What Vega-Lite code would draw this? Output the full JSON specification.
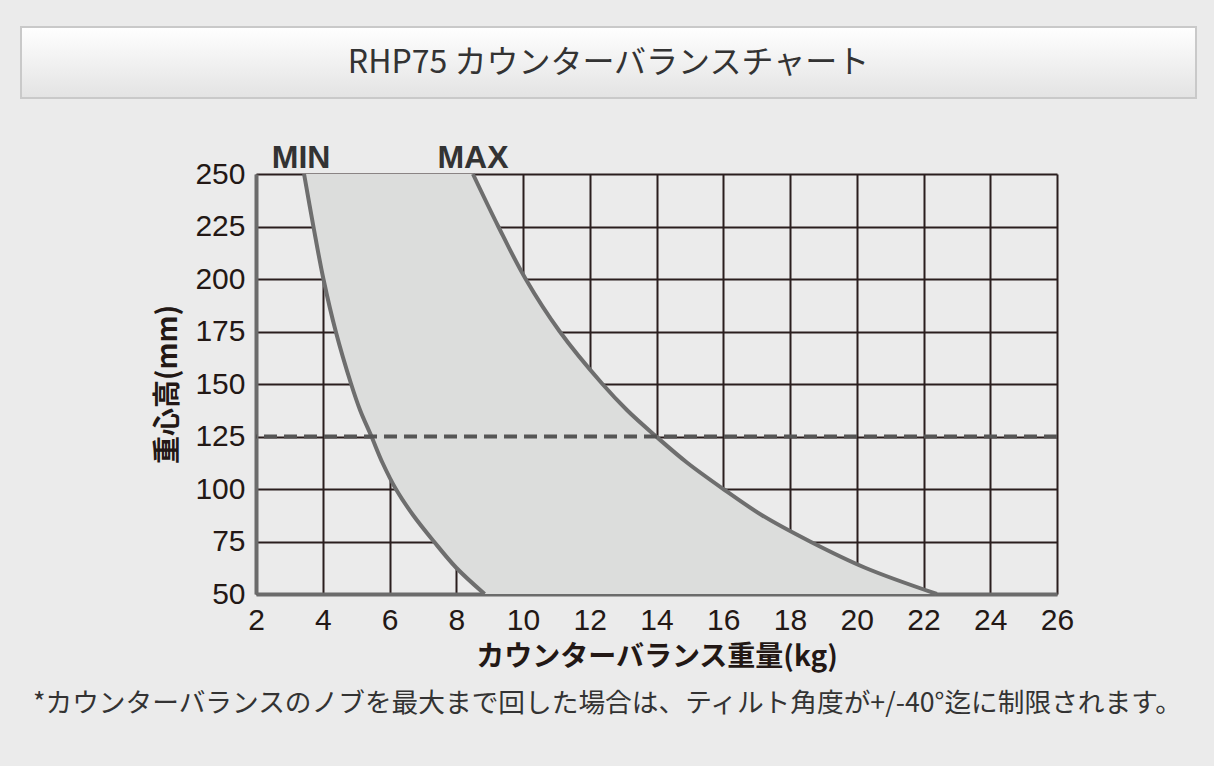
{
  "$schema": "https://vega.github.io/schema/vega-lite/v6.json",
  "background": "#ebebeb",
  "padding": {"left": 20, "top": 26, "right": 19, "bottom": 51},
  "spacing": 76,
  "bounds": "flush",
  "title": {
    "text": "*カウンターバランスのノブを最大まで回した場合は、ティルト角度が+/-40°迄に制限されます。",
    "orient": "bottom",
    "anchor": "start",
    "dx": 13,
    "offset": 20,
    "font": "Noto Sans CJK JP",
    "fontSize": 26.7,
    "fontWeight": "normal",
    "color": "#333333"
  },
  "vconcat": [
    {
      "width": 1175,
      "height": 71,
      "data": {"values": [{"label": "RHP75 カウンターバランスチャート"}]},
      "layer": [
        {
          "mark": {
            "type": "rect",
            "color": {
              "gradient": "linear",
              "x1": 0, "y1": 0, "x2": 0, "y2": 1,
              "stops": [
                {"offset": 0, "color": "#ffffff"},
                {"offset": 1, "color": "#e3e3e3"}
              ]
            },
            "stroke": "#c9c9c9",
            "strokeWidth": 2
          },
          "encoding": {}
        },
        {
          "mark": {"type": "text", "font": "Noto Sans CJK JP", "fontSize": 32, "color": "#333333"},
          "encoding": {"text": {"field": "label"}}
        }
      ]
    },
    {
      "spacing": 0,
      "bounds": "flush",
      "hconcat": [
        {
          "width": 235,
          "height": 420,
          "data": {"values": [{}]},
          "mark": {"type": "point", "opacity": 0}
        },
        {
          "width": 801,
          "height": 420,
          "data": {
            "values": [
              {"h": 250, "min": 3.44, "max": 8.5},
              {"h": 225, "min": 3.72, "max": 9.26},
              {"h": 200, "min": 4.02, "max": 10.08},
              {"h": 175, "min": 4.39, "max": 11.1},
              {"h": 150, "min": 4.85, "max": 12.38},
              {"h": 137.5, "min": 5.12, "max": 13.12},
              {"h": 125, "min": 5.46, "max": 13.99},
              {"h": 112.5, "min": 5.79, "max": 14.92},
              {"h": 100, "min": 6.19, "max": 16.0},
              {"h": 87.5, "min": 6.71, "max": 17.16},
              {"h": 75, "min": 7.33, "max": 18.6},
              {"h": 62.5, "min": 8.0, "max": 20.25},
              {"h": 50, "min": 8.85, "max": 22.4}
            ]
          },
          "layer": [
            {
              "mark": {"type": "area", "orient": "horizontal", "interpolate": "catmull-rom", "color": "#dcdddc"},
              "encoding": {
                "y": {
                  "field": "h", "type": "quantitative",
                  "scale": {"domain": [50, 250], "nice": false, "zero": false},
                  "axis": {
                    "values": [50, 75, 100, 125, 150, 175, 200, 225, 250],
                    "title": "重心高(mm)",
                    "titlePadding": 12
                  }
                },
                "x": {
                  "field": "min", "type": "quantitative",
                  "scale": {"domain": [2, 26], "nice": false, "zero": false},
                  "axis": {
                    "values": [2, 4, 6, 8, 10, 12, 14, 16, 18, 20, 22, 24, 26],
                    "title": "カウンターバランス重量(kg)",
                    "titlePadding": 8
                  }
                },
                "x2": {"field": "max"}
              }
            },
            {
              "mark": {"type": "line", "interpolate": "catmull-rom", "color": "#6e6e6e", "strokeWidth": 4},
              "encoding": {
                "x": {"field": "min", "type": "quantitative"},
                "y": {"field": "h", "type": "quantitative"},
                "order": {"field": "h"}
              }
            },
            {
              "mark": {"type": "line", "interpolate": "catmull-rom", "color": "#6e6e6e", "strokeWidth": 4},
              "encoding": {
                "x": {"field": "max", "type": "quantitative"},
                "y": {"field": "h", "type": "quantitative"},
                "order": {"field": "h"}
              }
            },
            {
              "data": {"values": [{"h": 125}]},
              "mark": {"type": "rule", "color": "#555555", "strokeWidth": 4, "strokeDash": [13, 7]},
              "encoding": {"y": {"field": "h", "type": "quantitative"}}
            },
            {
              "data": {"values": [{"label": "MIN", "x": 3.35, "h": 250}, {"label": "MAX", "x": 8.5, "h": 250}]},
              "mark": {"type": "text", "font": "Liberation Sans", "fontSize": 32, "fontWeight": "bold", "color": "#333333", "baseline": "alphabetic", "dy": -6},
              "encoding": {
                "x": {"field": "x", "type": "quantitative"},
                "y": {"field": "h", "type": "quantitative"},
                "text": {"field": "label"}
              }
            }
          ]
        }
      ]
    }
  ],
  "config": {
    "view": {"stroke": null},
    "axis": {
      "zindex": 1,
      "grid": true,
      "gridColor": "#2a1e1e",
      "gridWidth": 2,
      "gridOpacity": 1,
      "domainColor": "#6b6b6b",
      "domainWidth": 4,
      "ticks": false,
      "labelFont": "Liberation Sans",
      "labelFontSize": 30,
      "labelColor": "#231815",
      "labelPadding": 11,
      "labelFlush": false,
      "labelOverlap": false,
      "titleFont": "Noto Sans CJK JP",
      "titleFontSize": 28,
      "titleFontWeight": "bold",
      "titleColor": "#231815"
    }
  }
}
